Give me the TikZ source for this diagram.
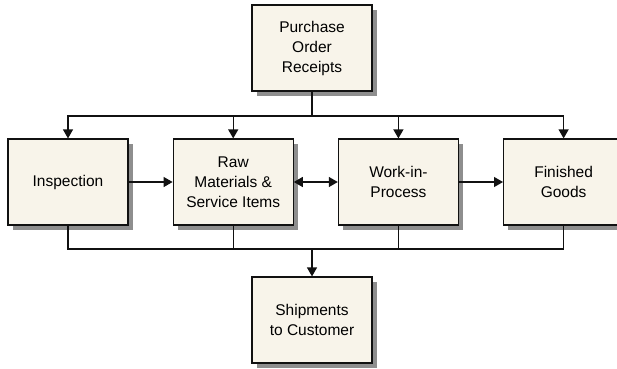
\documentclass[tikz,border=0pt]{standalone}
\usepackage{fontspec}
\setmainfont{Liberation Sans}
\usepackage{tikz}
\usetikzlibrary{positioning,arrows.meta,shadows}
\definecolor{flowcream}{HTML}{F8F4EA}
\definecolor{flowshade}{HTML}{8E8E8E}
\definecolor{flowink}{HTML}{111111}

\begin{document}
\begin{tikzpicture}[
  x=1pt, y=-1pt,
  font=\fontsize{15.5}{20}\selectfont,
  box/.style={draw=flowink, line width=1.2pt, fill=flowcream, align=center,
    minimum width=120pt, minimum height=86pt, inner sep=0pt,
    drop shadow={shadow xshift=4.5pt, shadow yshift=-4.5pt, fill=flowshade, opacity=1}},
  arr/.style={-{Triangle[length=9pt,width=10pt]}, line width=1.2pt, draw=flowink},
  biarr/.style={{Triangle[length=9pt,width=10pt]}-{Triangle[length=9pt,width=10pt]}, line width=1.2pt, draw=flowink},
  wire/.style={line width=1.2pt, draw=flowink}
]
\useasboundingbox (0,0) rectangle (617,368);
\node[box] (po) at (312,48) {Purchase\\Order\\Receipts};
\node[box] (insp) at (68,182) {Inspection};
\node[box, right=44pt of insp] (raw) {Raw\\Materials \&\\Service Items};
\node[box, right=44pt of raw] (wip) {Work-in-\\Process};
\node[box, right=44pt of wip] (fin) {Finished\\Goods};
\node[box] (ship) at (312,320) {Shipments\\to Customer};

\coordinate (split) at (312,116);
\coordinate (merge) at (312,249);

% receipts fan out to the four stages
\draw[wire] (po) -- (split);
\foreach \n in {insp,raw,wip,fin}
  \draw[arr] (split) -| (\n.north);

\draw[arr] (insp) -- (raw);
\draw[biarr] (raw) -- (wip);
\draw[arr] (wip) -- (fin);

% every stage feeds shipments
\foreach \n in {insp,raw,wip,fin}
  \draw[wire] (\n.south) |- (merge);
\draw[arr] (merge) -- (ship);
\end{tikzpicture}
\end{document}
